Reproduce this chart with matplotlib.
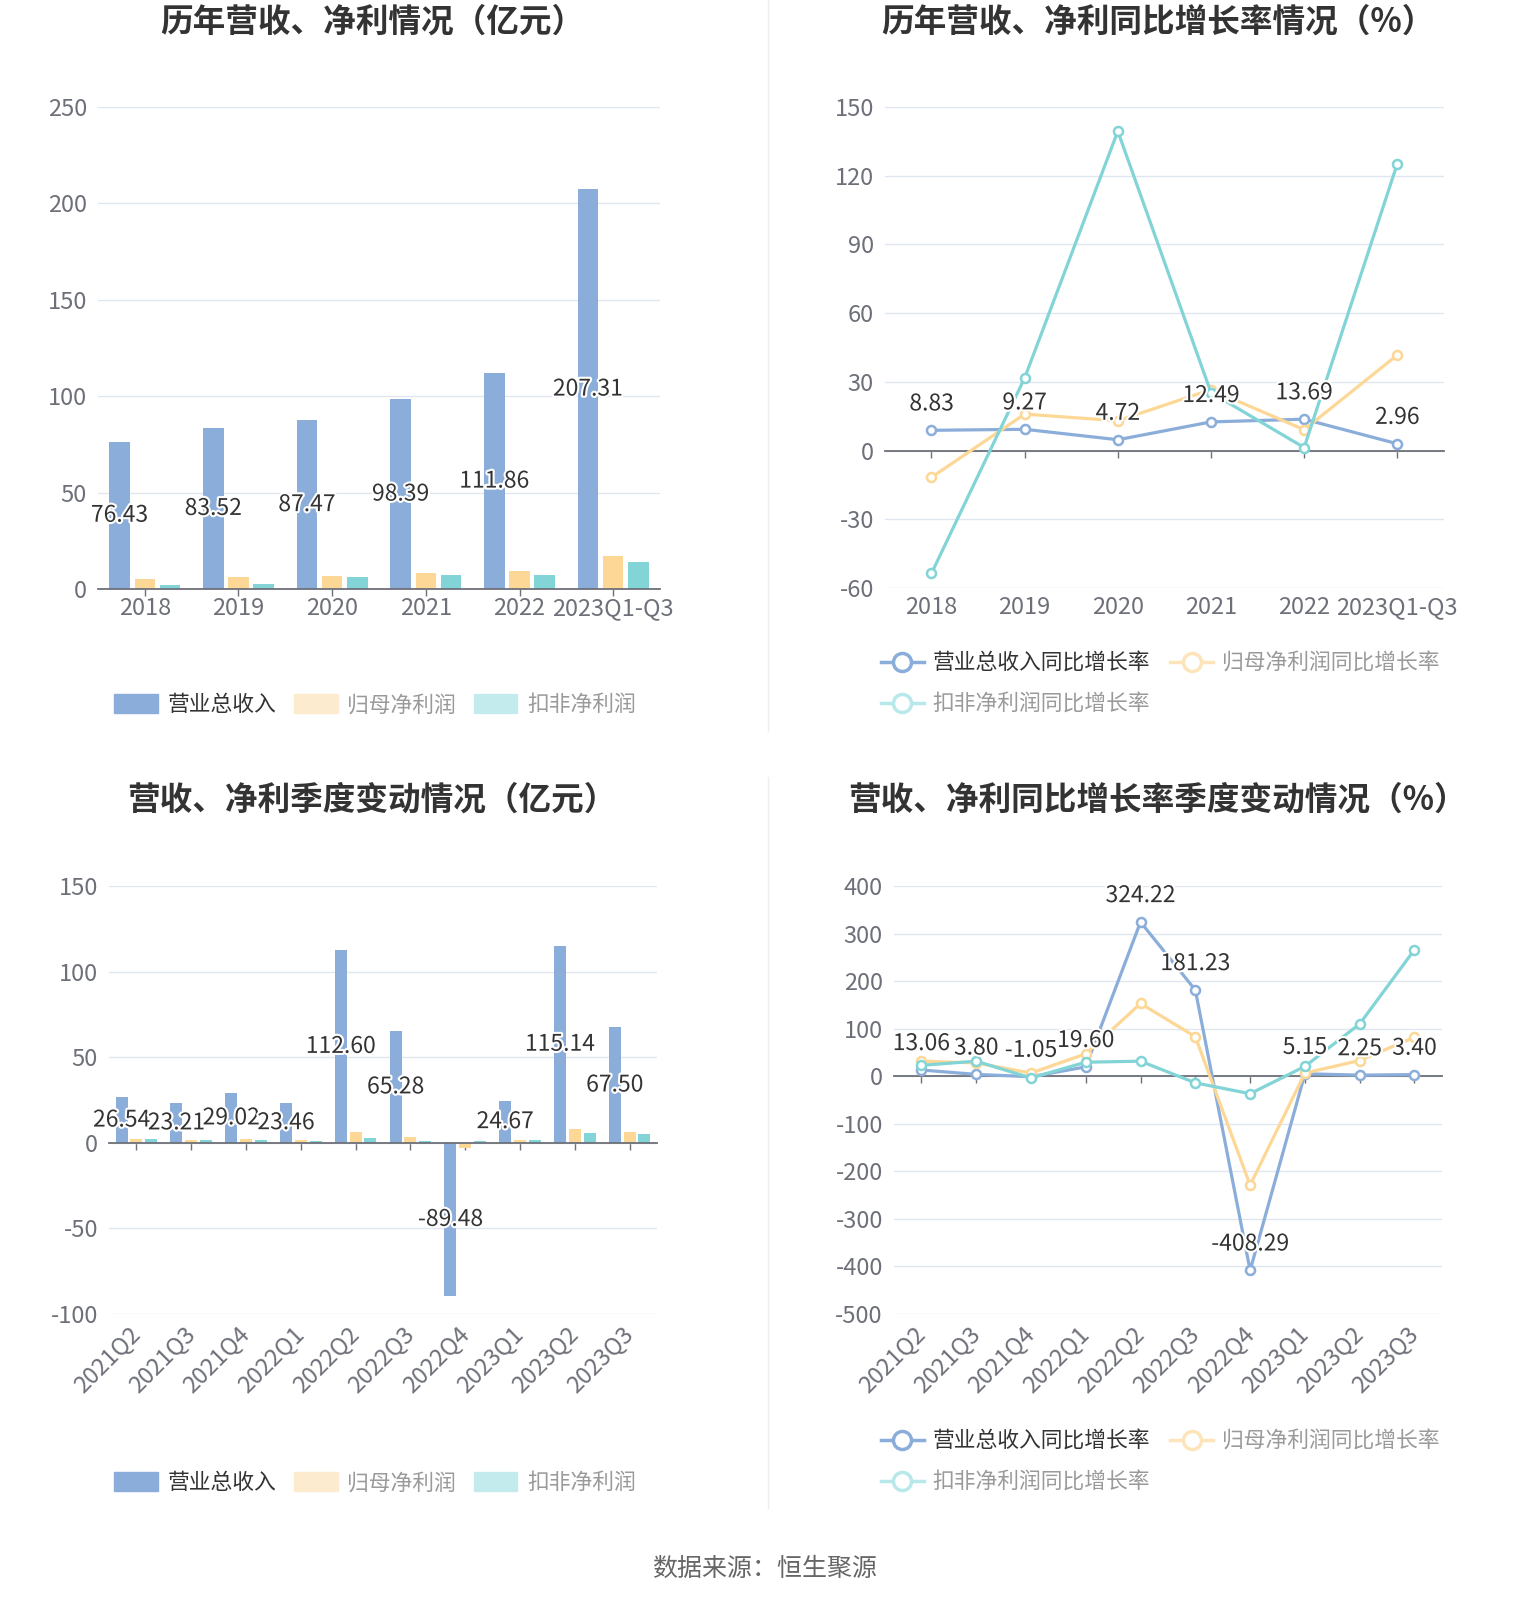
import matplotlib
matplotlib.use("Agg")
import matplotlib.pyplot as plt
import matplotlib.patheffects as pe
from matplotlib.patches import Patch
from matplotlib.lines import Line2D

plt.rcParams['font.family'] = ['Noto Sans CJK SC', 'DejaVu Sans']
plt.rcParams['axes.unicode_minus'] = False

# ---- data ----
years = ['2018', '2019', '2020', '2021', '2022', '2023Q1-Q3']
rev = [76.43, 83.52, 87.47, 98.39, 111.86, 207.31]
net = [5.2, 6.2, 6.9, 8.4, 9.2, 17.0]
ded = [2.2, 2.8, 6.2, 7.3, 7.3, 13.9]
rev_yoy = [8.83, 9.27, 4.72, 12.49, 13.69, 2.96]
net_yoy = [-11.7, 15.9, 13.0, 26.6, 9.1, 41.7]
ded_yoy = [-53.6, 31.7, 139.4, 25.3, 1.3, 125.2]

quarters = ['2021Q2', '2021Q3', '2021Q4', '2022Q1', '2022Q2', '2022Q3',
            '2022Q4', '2023Q1', '2023Q2', '2023Q3']
q_rev = [26.54, 23.21, 29.02, 23.46, 112.60, 65.28, -89.48, 24.67, 115.14, 67.50]
q_net = [2.4, 1.6, 2.0, 1.8, 6.1, 3.5, -3.1, 1.8, 8.0, 6.3]
q_ded = [2.0, 1.6, 1.6, 1.2, 2.7, 1.2, 0.8, 1.6, 5.9, 5.1]
q_rev_yoy = [13.06, 3.80, -1.05, 19.60, 324.22, 181.23, -408.29, 5.15, 2.25, 3.40]
q_net_yoy = [31.6, 28.0, 6.6, 47.0, 153.0, 83.0, -229.0, 6.6, 33.0, 82.0]
q_ded_yoy = [22.8, 31.6, -3.7, 29.4, 31.6, -14.0, -36.8, 20.6, 110.0, 266.0]

bar_names = ['营业总收入', '归母净利润', '扣非净利润']
line_names = ['营业总收入同比增长率', '归母净利润同比增长率', '扣非净利润同比增长率']

BLUE, ORANGE, TEAL = '#8badda', '#fdd796', '#82d4d6'
PALE_OR, PALE_TE = '#fdebd0', '#c3ebed'
AXC = '#6e7079'
GRID = '#e0e6f1'
TXT = '#333333'
stroke = [pe.withStroke(linewidth=3, foreground='white')]

fig = plt.figure(figsize=(15.31, 16.03), dpi=100)


def setup(ax, cats, ylim, yticks, rotate=False):
    n = len(cats)
    ax.set_xlim(-0.5, n - 0.5)
    ax.set_ylim(ylim)
    ax.set_yticks(yticks)
    ax.grid(axis='y', color=GRID, lw=1)
    ax.set_axisbelow(True)
    for s in ['top', 'right', 'left']:
        ax.spines[s].set_visible(False)
    ax.spines['bottom'].set_position(('data', 0))
    ax.spines['bottom'].set_color(AXC)
    ax.spines['bottom'].set_linewidth(1.3)
    ax.set_xticks(range(n))
    ax.tick_params(axis='x', length=5, width=1, color=AXC, labelbottom=False)
    ax.tick_params(axis='y', length=0, pad=8, labelcolor=AXC, labelsize=17)
    sec = ax.secondary_xaxis(0)
    if rotate:
        sec.set_xticks(range(n), cats, rotation=45, ha='right', va='center',
                       rotation_mode='anchor')
        sec.tick_params(length=0, pad=12, labelcolor=AXC, labelsize=17)
    else:
        sec.set_xticks(range(n), cats)
        sec.tick_params(length=0, pad=6, labelcolor=AXC, labelsize=17)
    sec.spines['bottom'].set_visible(False)


def bars(ax, cats, a, b, c):
    x = range(len(cats))
    w, off = 0.22, 0.27
    ax.bar([i - off for i in x], a, w, color=BLUE, zorder=2)
    ax.bar(list(x), b, w, color=ORANGE, zorder=2)
    ax.bar([i + off for i in x], c, w, color=TEAL, zorder=2)
    for i, v in zip(x, a):
        ax.text(i - off, v / 2, f'{v:.2f}', ha='center', va='center', fontsize=16.5,
                color=TXT, path_effects=stroke, zorder=5)


def lines(ax, cats, a, b, c):
    x = list(range(len(cats)))
    for vals, col in [(a, BLUE), (b, ORANGE), (c, TEAL)]:
        ax.plot(x, vals, color=col, lw=2.3, marker='o', ms=6.5, mfc='white',
                mec=col, mew=1.8, zorder=3, clip_on=False)
    for i, v in zip(x, a):
        ax.annotate(f'{v:.2f}', (i, v), xytext=(0, 19), textcoords='offset points',
                    ha='center', va='center', fontsize=16.5, color=TXT,
                    path_effects=stroke, zorder=6)


def bar_legend(y):
    hs = [Patch(color=BLUE), Patch(color=PALE_OR), Patch(color=PALE_TE)]
    lg = fig.legend(hs, bar_names, loc='center', bbox_to_anchor=(0.245, y), ncol=3,
                    frameon=False, fontsize=15.7, handlelength=2.0, handleheight=1.0,
                    handletextpad=0.45, columnspacing=0.8, borderpad=0)
    for t, col in zip(lg.get_texts(), [TXT, '#9a9a9a', '#9a9a9a']):
        t.set_color(col)


def line_legend(y):
    def h(col):
        return Line2D([], [], color=col, lw=2.5, marker='o', ms=13, mfc='white',
                      mec=col, mew=2.5)
    hs = [h(BLUE), h('#b8e8ea'), h('#fee4bb')]
    labels = [line_names[0], line_names[2], line_names[1]]
    lg = fig.legend(hs, labels, loc='upper left', bbox_to_anchor=(881 / 1531, y), ncol=2,
                    frameon=False, fontsize=15.7, handlelength=1.95,
                    handletextpad=0.4, columnspacing=0.95, labelspacing=0.85,
                    borderpad=0, borderaxespad=0)
    for t, col in zip(lg.get_texts(), [TXT, '#9a9a9a', '#9a9a9a']):
        t.set_color(col)


# top-left: yearly revenue / profit
ax1 = fig.add_axes([0.0640, 0.6326, 0.3671, 0.3007])
setup(ax1, years, (0, 250), range(0, 251, 50))
bars(ax1, years, rev, net, ded)

# top-right: yearly growth
ax2 = fig.add_axes([0.5780, 0.6332, 0.3651, 0.3001])
setup(ax2, years, (-60, 150), range(-60, 151, 30))
lines(ax2, years, rev_yoy, net_yoy, ded_yoy)

# bottom-left: quarterly
ax3 = fig.add_axes([0.0712, 0.1803, 0.3579, 0.2670])
setup(ax3, quarters, (-100, 150), range(-100, 151, 50), rotate=True)
bars(ax3, quarters, q_rev, q_net, q_ded)

# bottom-right: quarterly growth
ax4 = fig.add_axes([0.5839, 0.1803, 0.3579, 0.2670])
setup(ax4, quarters, (-500, 400), range(-500, 401, 100), rotate=True)
lines(ax4, quarters, q_rev_yoy, q_net_yoy, q_ded_yoy)

# titles
tkw = dict(ha='center', va='center', fontsize=23.5, fontweight='bold', color=TXT)
fig.text(0.243, 1 - 22.5 / 1603, '历年营收、净利情况（亿元）', **tkw)
fig.text(0.756, 1 - 22.5 / 1603, '历年营收、净利同比增长率情况（%）', **tkw)
fig.text(0.243, 1 - 800 / 1603, '营收、净利季度变动情况（亿元）', **tkw)
fig.text(0.756, 1 - 800 / 1603, '营收、净利同比增长率季度变动情况（%）', **tkw)

# legends
bar_legend(1 - 705 / 1603)
line_legend(1 - 653 / 1603)
bar_legend(1 - 1483 / 1603)
line_legend(1 - 1431 / 1603)

# separators
fig.add_artist(Line2D([768 / 1531] * 2, [1, 1 - 731 / 1603], color='#eeeeee', lw=1))
fig.add_artist(Line2D([768 / 1531] * 2, [1 - 777 / 1603, 1 - 1508 / 1603],
                      color='#eeeeee', lw=1))

fig.text(0.4993, 1 - 1569 / 1603, '数据来源：恒生聚源', ha='center', va='center',
         fontsize=18, color='#666666')

fig.savefig('out.png', dpi=100)
